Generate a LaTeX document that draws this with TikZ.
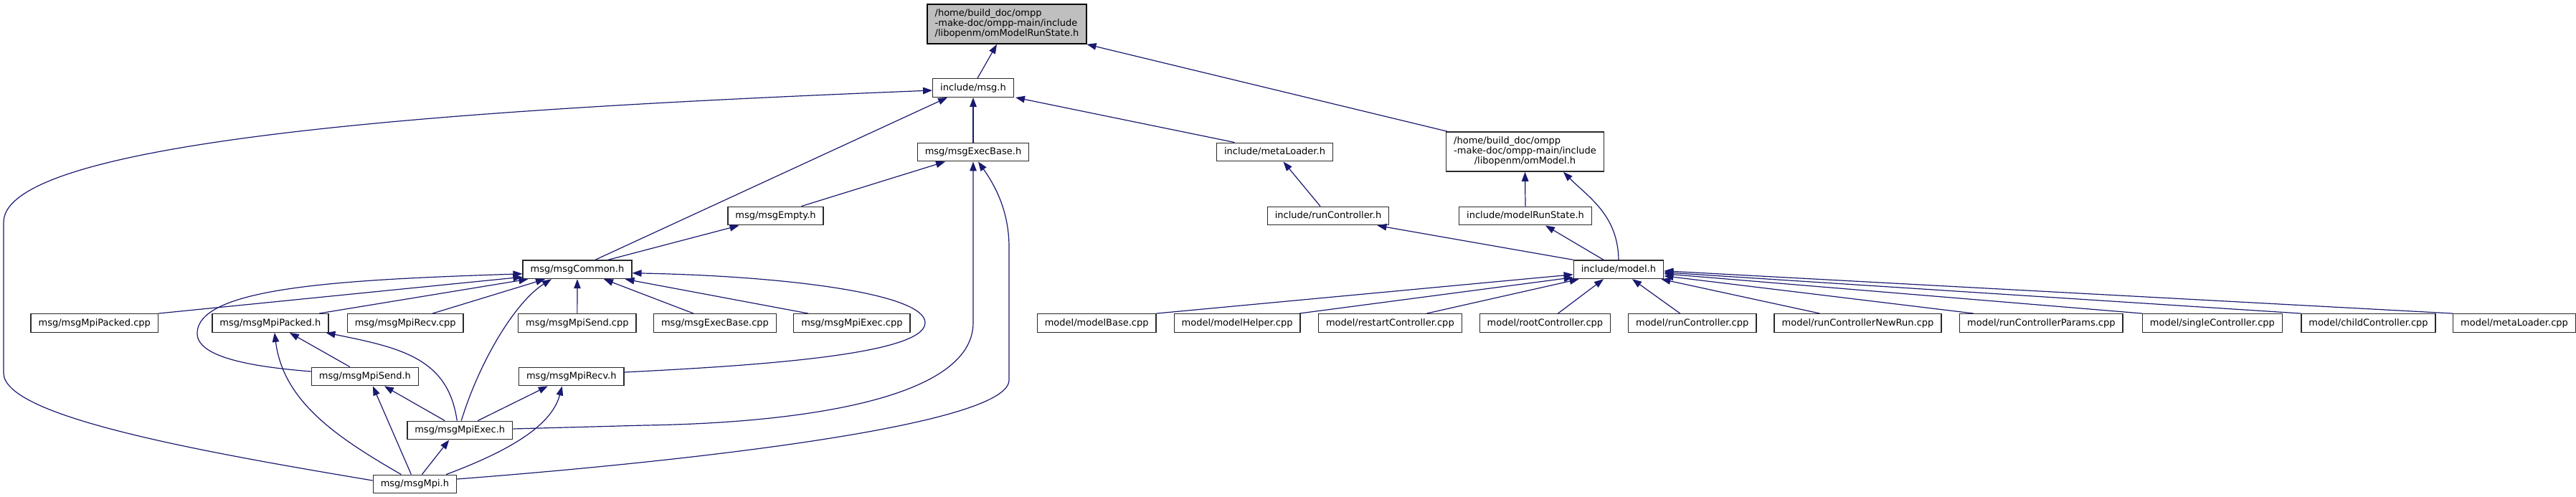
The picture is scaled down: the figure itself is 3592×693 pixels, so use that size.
\documentclass[tikz,border=0pt]{standalone}
\usepackage{fontspec}
\setmainfont{DejaVu Sans}
\usetikzlibrary{arrows.meta,calc}
\definecolor{edgecol}{HTML}{191970}
\definecolor{rootfill}{HTML}{BFBFBF}
\definecolor{boxline}{HTML}{2A2A2A}
\begin{document}
\begin{tikzpicture}[x=1pt,y=-1pt,
  font=\fontsize{13pt}{14pt}\selectfont,
  basebox/.style={draw=boxline, fill=white, line width=1.4pt, inner xsep=10.5pt},
  file/.style={basebox, minimum height=25.5pt, text height=10pt, text depth=3pt, inner ysep=0pt},
  multibox/.style={basebox, inner ysep=6.5pt},
  rootbox/.style={multibox, fill=rootfill, draw=black},
  dep/.style={draw=edgecol, line width=1.2pt, {Triangle[length=13pt,width=9.5pt]}-}]
\useasboundingbox (0,0) rectangle (3592,693);

% ---- nodes ----
\node[rootbox] (root) at (1404,33.5) {\begin{tabular}{@{}l@{}}/home/build\_doc/ompp\\-make-doc/ompp-main/include\\/libopenm/omModelRunState.h\end{tabular}};
\node[file] (msgh) at (1357,122.5) {include/msg.h};
\node[file] (execbaseh) at (1357,212) {msg/msgExecBase.h};
\node[file] (metaloaderh) at (1777.5,212) {include/metaLoader.h};
\node[multibox] (ommodel) at (2126.5,211.5) {\begin{tabular}{@{}l@{}}/home/build\_doc/ompp\\-make-doc/ompp-main/include\\\multicolumn{1}{@{}c@{}}{/libopenm/omModel.h}\end{tabular}};
\node[file] (emptyh) at (1081.5,301) {msg/msgEmpty.h};
\node[file] (runctrlh) at (1852,301) {include/runController.h};
\node[file] (runstateh) at (2127,301) {include/modelRunState.h};
\node[file] (commonh) at (805,375.75) {msg/msgCommon.h};
\node[file] (modelh) at (2257,375.75) {include/model.h};

\node[file] (mpipackedcpp) at (131.75,450.5) {msg/msgMpiPacked.cpp};
\node[file] (mpipackedh) at (376.85,450.5) {msg/msgMpiPacked.h};
\node[file] (mpirecvcpp) at (565.2,450.5) {msg/msgMpiRecv.cpp};
\node[file] (mpisendcpp) at (804.85,450.5) {msg/msgMpiSend.cpp};
\node[file] (execbasecpp) at (997,450.5) {msg/msgExecBase.cpp};
\node[file] (mpiexeccpp) at (1187.9,450.5) {msg/msgMpiExec.cpp};
\node[file] (modelbase) at (1529.15,450.5) {model/modelBase.cpp};
\node[file] (modelhelper) at (1725.15,450.5) {model/modelHelper.cpp};
\node[file] (restart) at (1938.35,450.5) {model/restartController.cpp};
\node[file] (rootctrl) at (2154.45,450.5) {model/rootController.cpp};
\node[file] (runctrlcpp) at (2359.7,450.5) {model/runController.cpp};
\node[file] (newrun) at (2590.5,450.5) {model/runControllerNewRun.cpp};
\node[file] (params) at (2846.4,450.5) {model/runControllerParams.cpp};
\node[file] (single) at (3084.9,450.5) {model/singleController.cpp};
\node[file] (child) at (3302.5,450.5) {model/childController.cpp};
\node[file] (metaloadercpp) at (3506,450.5) {model/metaLoader.cpp};

\node[file] (mpisendh) at (508.9,525) {msg/msgMpiSend.h};
\node[file] (mpirecvh) at (796.8,525) {msg/msgMpiRecv.h};
\node[file] (mpiexech) at (641.25,600) {msg/msgMpiExec.h};
\node[file] (mpih) at (578.4,675) {msg/msgMpi.h};

% ---- edges (arrow at the included file) ----
\draw[dep] ($(root.south)+(-14,0)$) -- ($(msgh.north)+(6,0)$);
\draw[dep] (root.south east) -- ($(ommodel.north west)+(2,0)$);
\draw[dep] (msgh.south) -- (execbaseh.north);
\draw[dep] ($(msgh.south east)+(2,0)$) -- ($(metaloaderh.north)+(-56,0)$);
\draw[dep] ($(msgh.south west)+(21,0)$) -- ($(commonh.north)+(25,0)$);
\draw[dep] ($(msgh.west)+(0,3.5)$) .. controls (700,150) and (5,190) .. (5,310) -- (5,520)
  .. controls (5,580) and (269,628) .. ($(mpih.west)+(0,-5)$);
\draw[dep] ($(execbaseh.south)+(-39,0)$) -- ($(emptyh.north)+(36,0)$);
\draw[dep] ($(emptyh.south)+(-51,0)$) -- ($(commonh.north)+(43,0)$);
\draw[dep] (execbaseh.south) -- (1357,450) .. controls (1357,560) and (1100,590) .. (900,593)
  -- ($(mpiexech.east)+(0,-2)$);
\draw[dep] ($(execbaseh.south)+(7,0)$) .. controls (1392,265) and (1407,300) .. (1407,345)
  -- (1407,530) .. controls (1407,590) and (1000,640) .. ($(mpih.east)+(0,-7)$);
\draw[dep] ($(metaloaderh.south)+(12,0)$) -- ($(runctrlh.north)+(-11,0)$);
\draw[dep] ($(runctrlh.south east)+(-17,0)$) -- (modelh.north west);
\draw[dep] (ommodel.south) -- (runstateh.north);
\draw[dep] ($(ommodel.south east)+(-57,0)$) .. controls (2215,275) and (2256,300) .. (modelh.north);
\draw[dep] ($(runstateh.south)+(28,0)$) -- ($(modelh.north)+(-21,0)$);

% model.h fan-in
\draw[dep] ($(modelh.west)+(0,7)$) -- (modelbase.north east);
\draw[dep] ($(modelh.west)+(0,11)$) -- ($(modelhelper.north east)+(-2,0)$);
\draw[dep] ($(modelh.south west)+(8,0)$) -- ($(restart.north)+(51,0)$);
\draw[dep] ($(modelh.south)+(-21,0)$) -- ($(rootctrl.north)+(18,0)$);
\draw[dep] ($(modelh.south)+(19,0)$) -- ($(runctrlcpp.north)+(-17,0)$);
\draw[dep] ($(modelh.south east)+(-4,0)$) -- ($(newrun.north)+(-53,0)$);
\draw[dep] ($(modelh.east)+(0,9)$) -- ($(params.north west)+(20,0)$);
\draw[dep] ($(modelh.east)+(0,6)$) -- (single.north west);
\draw[dep] ($(modelh.east)+(0,4)$) -- (child.north west);
\draw[dep] ($(modelh.east)+(0,2)$) -- (metaloadercpp.north west);

% msgCommon.h fan-in
\draw[dep] ($(commonh.west)+(0,6)$) .. controls (480,390) and (275,400) .. (275,465)
  .. controls (275,500) and (360,512) .. ($(mpisendh.west)+(0,-7)$);
\draw[dep] ($(commonh.south west)+(0,-3)$) -- (mpipackedcpp.north east);
\draw[dep] ($(commonh.south west)+(8,0)$) -- ($(mpipackedh.north)+(68,0)$);
\draw[dep] ($(commonh.south)+(-45,0)$) -- ($(mpirecvcpp.north)+(38,0)$);
\draw[dep] ($(commonh.south)+(-36,0)$) .. controls (720,420) and (670,500) .. ($(mpiexech.north)+(2,0)$);
\draw[dep] (commonh.south) -- (mpisendcpp.north);
\draw[dep] ($(commonh.south)+(37,0)$) -- ($(execbasecpp.north)+(-30,0)$);
\draw[dep] ($(commonh.south east)+(-10,0)$) -- ($(mpiexeccpp.north)+(-61,0)$);
\draw[dep] ($(commonh.east)+(0,5)$) .. controls (1100,385) and (1290,410) .. (1290,450)
  .. controls (1290,495) and (1050,510) .. ($(mpirecvh.east)+(0,-6)$);

% msgMpiPacked.h fan-in
\draw[dep] ($(mpipackedh.south)+(27,0)$) -- ($(mpisendh.north)+(-21,0)$);
\draw[dep] ($(mpipackedh.south east)+(-4,0)$) .. controls (560,485) and (625,500) .. ($(mpiexech.north)+(-4,0)$);
\draw[dep] ($(mpipackedh.south)+(6,0)$) .. controls (395,560) and (470,610) .. ($(mpih.north)+(-19,0)$);

% msgMpiSend.h fan-in
\draw[dep] ($(mpisendh.south)+(27,0)$) -- ($(mpiexech.north)+(-21,0)$);
\draw[dep] ($(mpisendh.south)+(11,0)$) -- ($(mpih.north)+(-5,0)$);

% msgMpiRecv.h fan-in
\draw[dep] ($(mpirecvh.south)+(-33,0)$) -- ($(mpiexech.north)+(25,0)$);
\draw[dep] ($(mpirecvh.south)+(-13,0)$) .. controls (770,590) and (720,625) .. ($(mpih.north east)+(-15,0)$);

% msgMpiExec.h <- msgMpi.h
\draw[dep] ($(mpiexech.south)+(-15,0)$) -- ($(mpih.north)+(10,0)$);
\end{tikzpicture}
\end{document}
